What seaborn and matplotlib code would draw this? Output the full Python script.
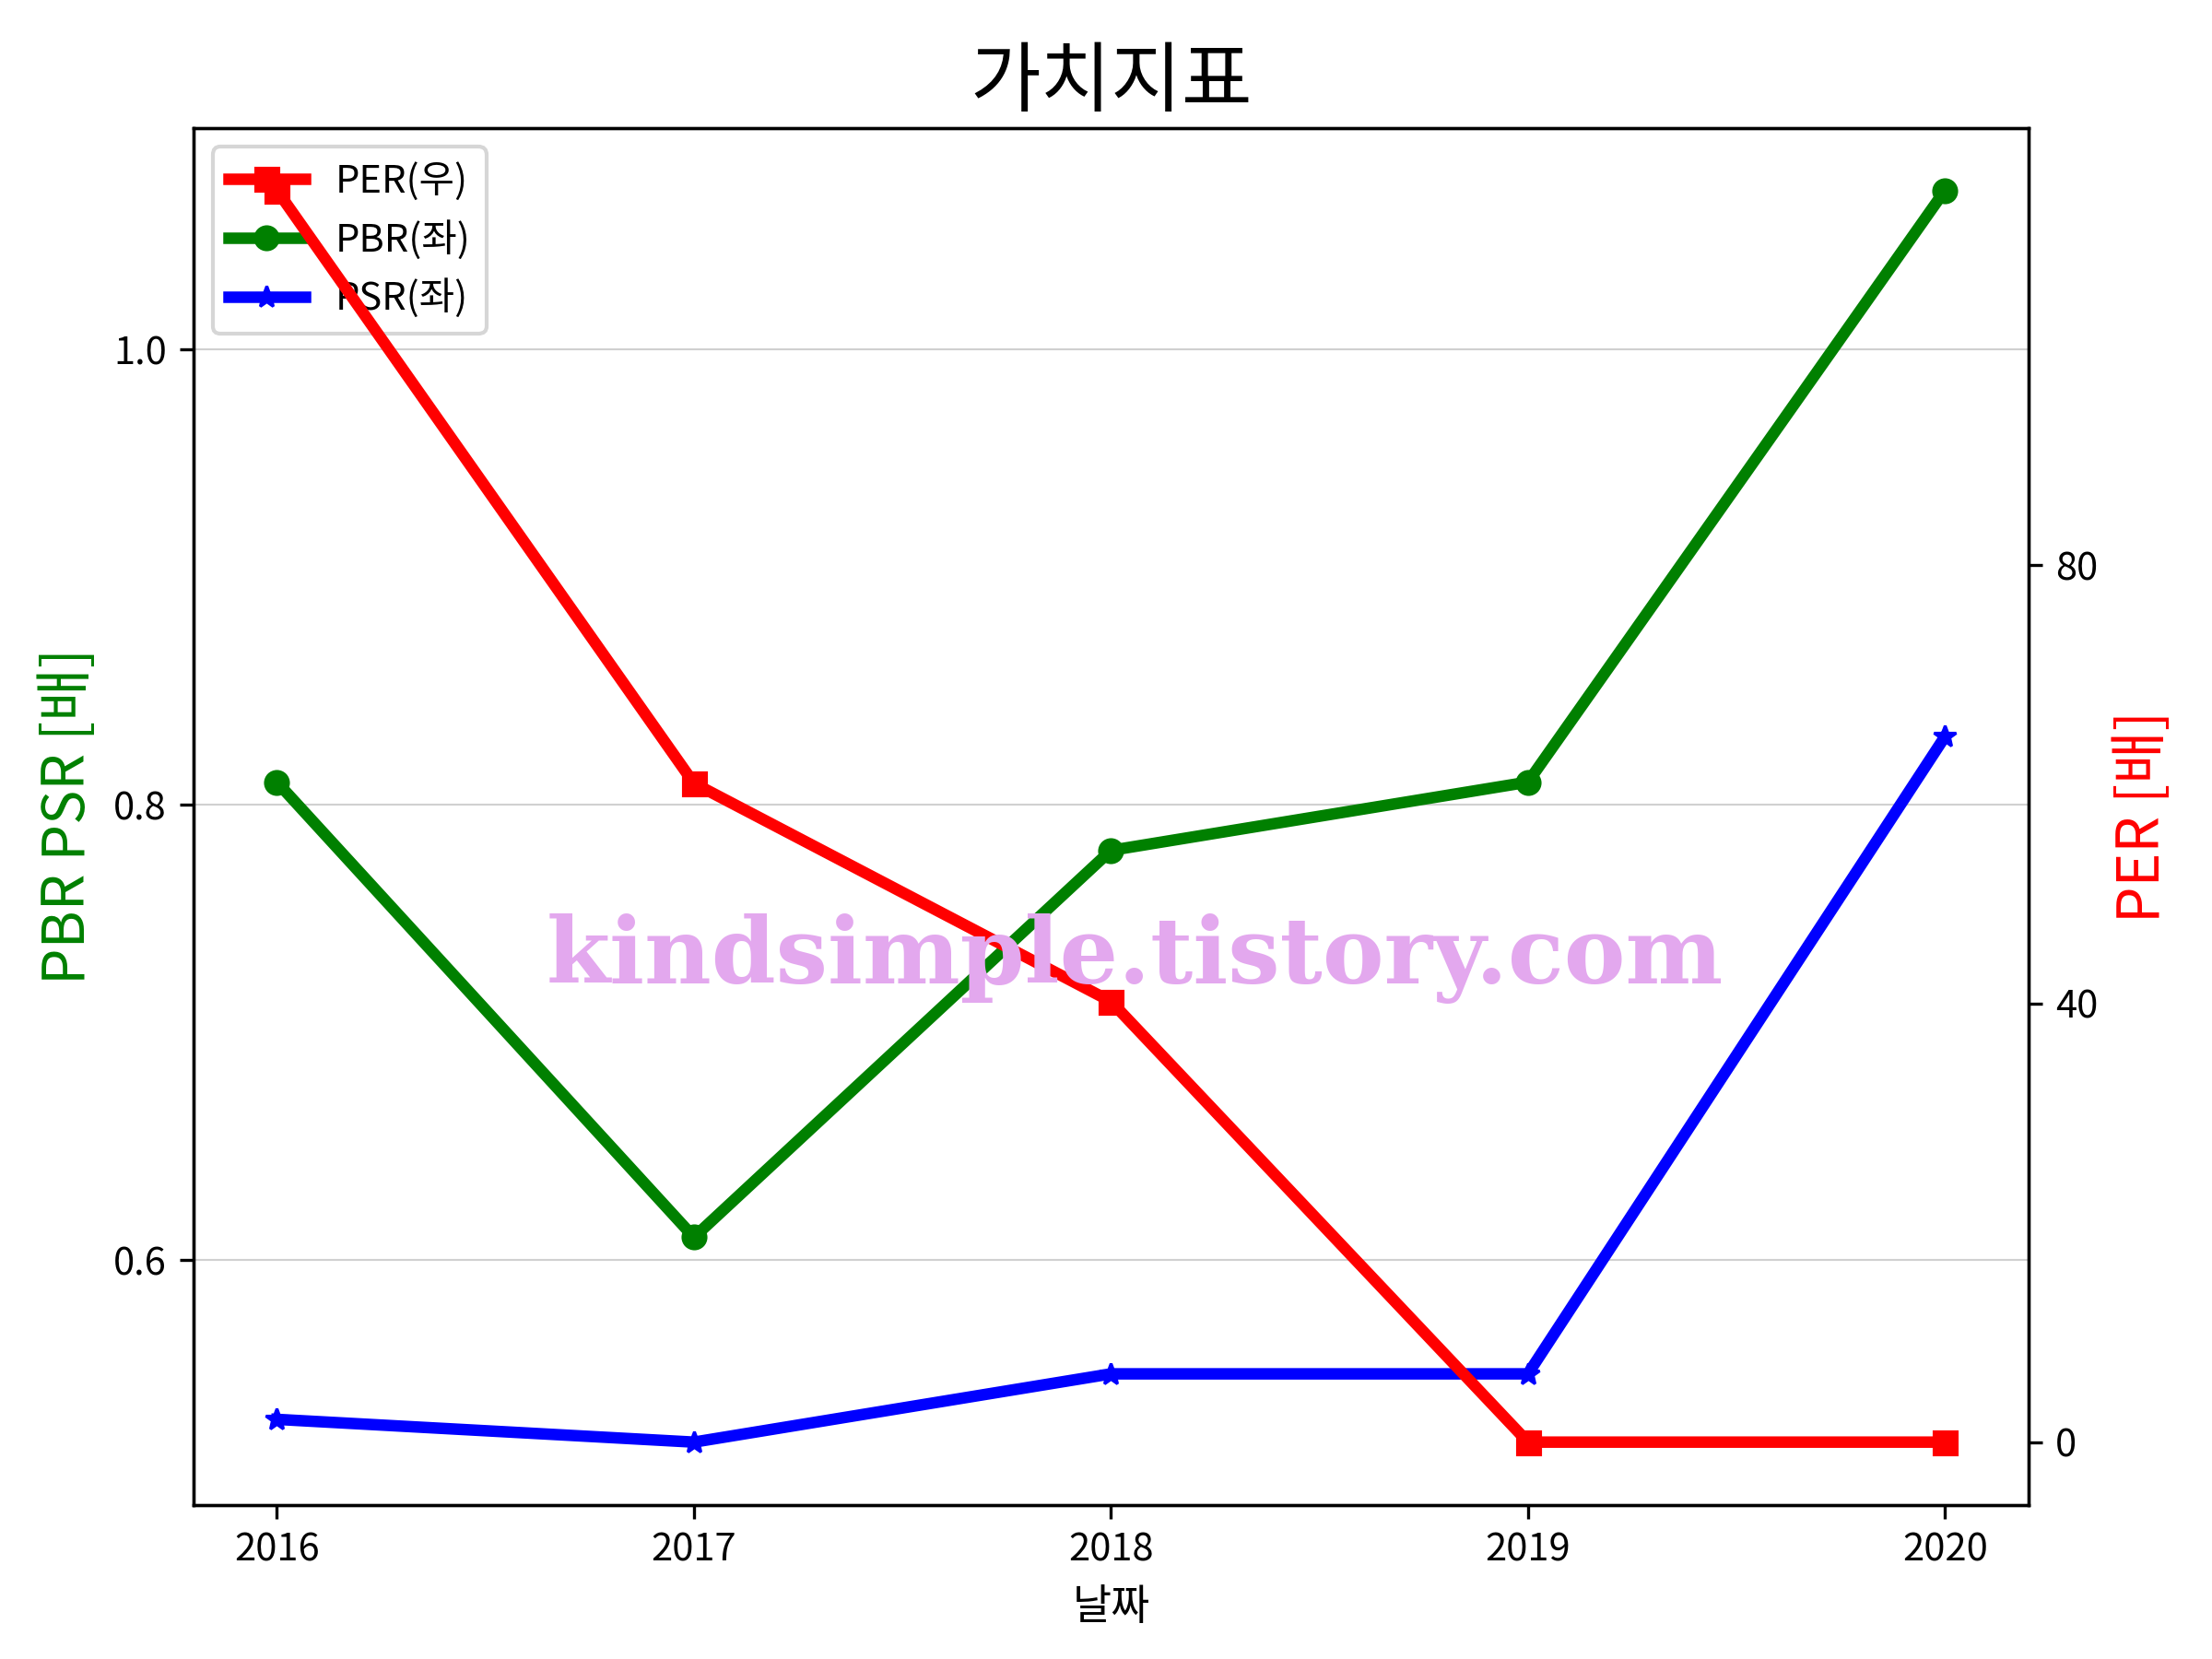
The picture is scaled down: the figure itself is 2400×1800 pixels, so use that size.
import matplotlib
matplotlib.use("Agg")
import matplotlib.pyplot as plt
import seaborn as sns

# Data
years = [2016, 2017, 2018, 2019, 2020]
per = [114.2, 60.1, 40.2, 0.0, 0.0]
pbr = [0.81, 0.61, 0.78, 0.81, 1.07]
psr = [0.53, 0.52, 0.55, 0.55, 0.83]

left_ticks = [0.6, 0.8, 1.0]
right_ticks = [0, 40, 80]

plt.rcParams["font.family"] = ["Noto Sans CJK KR", "DejaVu Sans"]
plt.rcParams["axes.unicode_minus"] = False

fig, ax1 = plt.subplots(figsize=(8, 6), dpi=300)
ax2 = ax1.twinx()

# Left axis: PBR, PSR
sns.lineplot(x=years, y=pbr, ax=ax1, color="green", marker="o", markersize=6,
             markeredgecolor="green", linewidth=3, label="PBR(좌)", legend=False)
sns.lineplot(x=years, y=psr, ax=ax1, color="blue", marker="*", markersize=6,
             markeredgecolor="blue", linewidth=3, label="PSR(좌)", legend=False)

# Right axis: PER
sns.lineplot(x=years, y=per, ax=ax2, color="red", marker="s", markersize=6,
             markeredgecolor="red", linewidth=3, label="PER(우)", legend=False)

ax1.set_xticks(years)
ax1.set_xticklabels([str(y) for y in years])
ax1.set_yticks(left_ticks)
ax2.set_yticks(right_ticks)
ax1.grid(axis="y", color="#d0d0d0", linewidth=0.5)
ax1.set_axisbelow(True)

ax1.set_xlabel("날짜", fontsize=11)
ax1.set_ylabel("PBR PSR [배]", color="green", fontsize=15)
ax2.set_ylabel("PER [배]", color="red", fontsize=15)
ax1.set_title("가치지표", fontsize=20)

# Legend collected from both axes, drawn on the left axis
h1, l1 = ax1.get_legend_handles_labels()
h2, l2 = ax2.get_legend_handles_labels()
ax1.legend(h2 + h1, l2 + l1, loc="upper left", fontsize=10)

fig.subplots_adjust(left=0.0875, right=0.917, top=0.923, bottom=0.093)

fig.text(0.513, 0.422, "kindsimple.tistory.com", ha="center", va="center",
         fontsize=24, fontweight="heavy", family="DejaVu Serif",
         color="#e3a8ee", zorder=10)

fig.savefig("out.png", dpi=300)
